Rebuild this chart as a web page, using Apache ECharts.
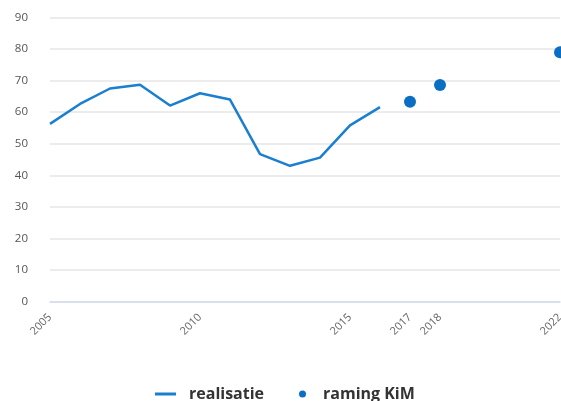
<!DOCTYPE html>
<html>
<head>
<meta charset="utf-8">
<script src="https://cdn.jsdelivr.net/npm/echarts@6/dist/echarts.min.js"></script>
<style>html,body{margin:0;padding:0;background:#fff}#c{width:561px;height:401px}</style>
</head>
<body>
<div id="c"></div>
<script>
var years = ['2005','2006','2007','2008','2009','2010','2011','2012','2013','2014','2015','2016','2017','2018','2019','2020','2021','2022'];
var realisatie = [56.3, 62.6, 67.5, 68.7, 62.1, 66.0, 64.0, 46.7, 43.0, 45.6, 55.8, 61.6, null, null, null, null, null, null];
var ramingKiM = [null, null, null, null, null, null, null, null, null, null, null, null, 63.3, 68.6, null, null, null, 79.0];
var xTickLabels = ['2005','2010','2015','2017','2018','2022'];
var yTicks = [0, 10, 20, 30, 40, 50, 60, 70, 80, 90];

var chart = echarts.init(document.getElementById('c'));
chart.setOption({
  animation: false,
  grid: { left: 50, right: 1, top: 17.5, bottom: 99.5, containLabel: false, outerBoundsMode: 'none' },
  legend: [
    { data: ['realisatie'], left: 150, top: 381, icon: 'rect', itemWidth: 21, itemHeight: 3,
      textStyle: { fontFamily: 'Open Sans', fontWeight: 'bold', fontSize: 16, color: '#333', padding: [0,0,0,8] } },
    { data: ['raming KiM'], left: 294, top: 381, icon: 'circle', itemWidth: 7, itemHeight: 7,
      textStyle: { fontFamily: 'Open Sans', fontWeight: 'bold', fontSize: 16, color: '#333', padding: [0,0,0,12] } }
  ],
  xAxis: {
    type: 'category',
    data: years,
    boundaryGap: false,
    axisLine: { show: true, lineStyle: { color: '#d3daef', width: 1.5 } },
    axisTick: { show: false },
    splitLine: { show: false },
    axisLabel: {
      rotate: 45,
      margin: 14,
      fontFamily: 'Open Sans',
      fontSize: 11,
      color: '#666',
      interval: function (idx, val) { return xTickLabels.indexOf(val) >= 0; }
    }
  },
  yAxis: {
    type: 'value',
    min: yTicks[0],
    max: yTicks[yTicks.length - 1],
    interval: 10,
    axisLine: { show: false },
    axisTick: { show: false },
    splitLine: { lineStyle: { color: '#e6e6e6', width: 1.5 } },
    axisLabel: { margin: 22, fontFamily: 'Open Sans', fontSize: 11.5, color: '#555' }
  },
  series: [
    { name: 'realisatie', type: 'line', data: realisatie, showSymbol: false, symbol: 'none',
      lineStyle: { color: '#1a7fcf', width: 2.5 }, itemStyle: { color: '#1a7fcf' } },
    { name: 'raming KiM', type: 'scatter', data: ramingKiM, symbolSize: 12,
      itemStyle: { color: '#0a6fc2', opacity: 1 } }
  ]
});
</script>
</body>
</html>
